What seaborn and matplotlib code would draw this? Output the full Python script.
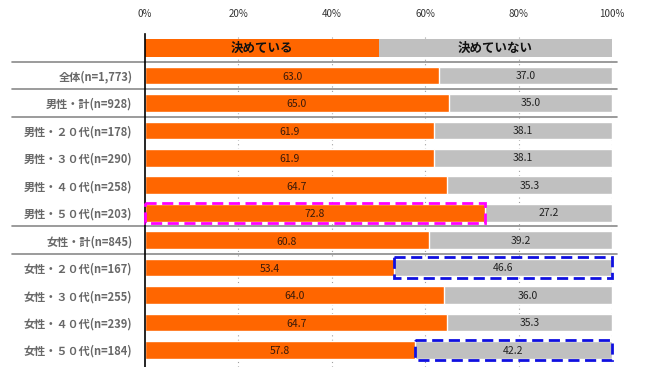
import numpy as np
import pandas as pd
import matplotlib
matplotlib.use("Agg")
import matplotlib.pyplot as plt
import matplotlib.patches as mpatches
import seaborn as sns

# ── Data ──────────────────────────────────────────────────────────────────────
labels = [
    "全体(n=1,773)", "男性・計(n=928)",
    "男性・２０代(n=178)", "男性・３０代(n=290)", "男性・４０代(n=258)", "男性・５０代(n=203)",
    "女性・計(n=845)",
    "女性・２０代(n=167)", "女性・３０代(n=255)", "女性・４０代(n=239)", "女性・５０代(n=184)",
]
decided = [63.0, 65.0, 61.9, 61.9, 64.7, 72.8, 60.8, 53.4, 64.0, 64.7, 57.8]
not_decided = [37.0, 35.0, 38.1, 38.1, 35.3, 27.2, 39.2, 46.6, 36.0, 35.3, 42.2]
series_names = ["決めている", "決めていない"]
tick_values = [0, 20, 40, 60, 80, 100]

# highlighted segments: (label, which series)
magenta_marks = [("男性・５０代(n=203)", 0)]
blue_marks = [("女性・２０代(n=167)", 1), ("女性・５０代(n=184)", 1)]

ORANGE = "#FF6600"
GRAY = "#C0C0C0"

sns.set_style("white")
plt.rcParams["font.family"] = ["Noto Sans CJK JP", "DejaVu Sans"]

df = pd.DataFrame({"label": labels, "decided": decided, "not_decided": not_decided})
df["total"] = df["decided"] + df["not_decided"]

rows = ["__legend__"] + labels

fig = plt.figure(figsize=(6.66, 3.67), dpi=100)
ax = fig.add_axes([145 / 666, 0, 467 / 666, 333 / 367])

bar_h = 0.64
sns.barplot(data=df, x="total", y="label", order=rows, color=GRAY,
            width=bar_h, saturation=1, ax=ax, orient="h")
sns.barplot(data=df, x="decided", y="label", order=rows, color=ORANGE,
            width=bar_h, saturation=1, ax=ax, orient="h")

# header row acting as legend
ax.barh(0, 50, height=bar_h, color=ORANGE, edgecolor="none")
ax.barh(0, 50, left=50, height=bar_h, color=GRAY, edgecolor="none")
ax.text(25, 0, series_names[0], ha="center", va="center", fontsize=9,
        fontweight="bold", color="#111111")
ax.text(75, 0, series_names[1], ha="center", va="center", fontsize=9,
        fontweight="bold", color="#111111")

# value labels
for i, (d, n) in enumerate(zip(decided, not_decided), start=1):
    ax.text(d / 2, i + 0.05, f"{d:.1f}", ha="center", va="center",
            fontsize=7.5, color="#3a1a0a")
    ax.text(d + n / 2, i + 0.02, f"{n:.1f}", ha="center", va="center",
            fontsize=7.5, color="#222222")

# dashed highlight boxes
def mark(label, series, color):
    i = rows.index(label)
    k = labels.index(label)
    left = 0 if series == 0 else decided[k]
    width = decided[k] if series == 0 else not_decided[k]
    ax.add_patch(mpatches.Rectangle((left, i - 0.37), width, 0.74, fill=False,
                                    edgecolor=color, lw=2, ls=(0, (4, 2)),
                                    clip_on=False, zorder=5))

for lab, s in magenta_marks:
    mark(lab, s, "#FF00FF")
for lab, s in blue_marks:
    mark(lab, s, "#1010E0")

# axes styling
ax.set_xlim(0, 100)
ax.set_ylim(11.62, -0.51)
ax.xaxis.tick_top()
ax.set_xticks(tick_values)
ax.set_xticklabels([f"{v}%" for v in tick_values], fontsize=7, color="#333333")
ax.tick_params(axis="x", length=0, pad=11)
ax.set_yticks(range(len(rows)))
ax.set_yticklabels([""] + labels, fontsize=8, color="#686868", fontweight="bold")
ax.tick_params(axis="y", length=0, pad=9)
ax.set_xlabel("")
ax.set_ylabel("")

for v in tick_values[1:]:
    ax.axvline(v, color="#A0A0A0", lw=0.8, ls=(0, (1, 3)), zorder=0)

for s in ["top", "right", "bottom"]:
    ax.spines[s].set_visible(False)
ax.spines["left"].set_color("black")
ax.spines["left"].set_linewidth(1.2)

# small inward ticks at row boundaries
ax.set_yticks(np.arange(0.5, len(rows), 1), minor=True)
ax.tick_params(axis="y", which="minor", direction="in", length=3, color="black")

# group separators
for y in [0.5, 1.5, 2.5, 6.5, 7.5]:
    ax.axhline(y, xmin=-0.285, xmax=1.01, color="#8a8a8a", lw=1.2, clip_on=False)

fig.savefig("out.png", dpi=100)
plt.close(fig)
